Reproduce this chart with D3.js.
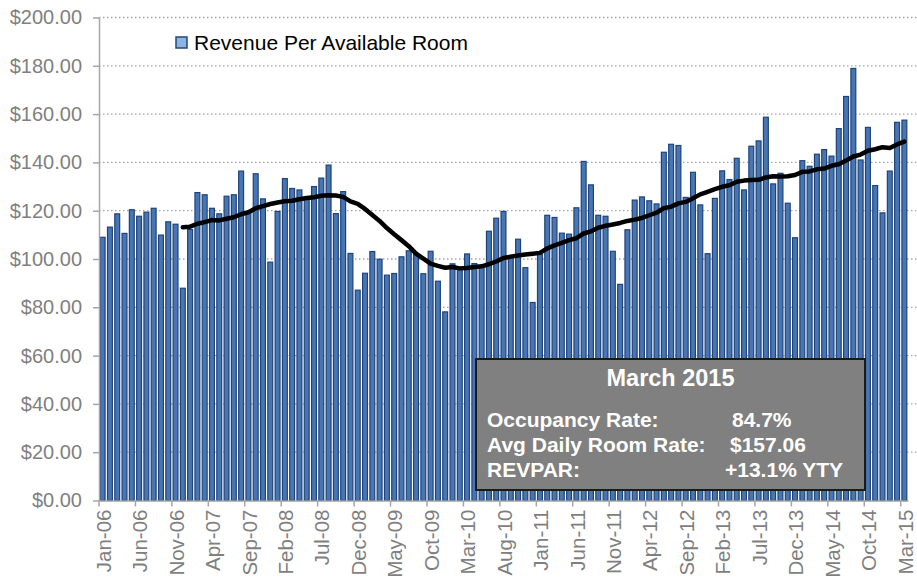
<!DOCTYPE html>
<html>
<head>
<meta charset="utf-8">
<script src="https://cdn.jsdelivr.net/npm/d3@7"></script>
<style>
  body { margin: 0; background: #fff; }
  #wrapper svg { display: block; font-family: "Liberation Sans", Arial, sans-serif; }
</style>
</head>
<body>
<div id="wrapper"></div>
<script>
// monthly revenue per available room, Jan-06 .. Mar-15
const revpar2006 = [109.0, 113.2, 118.7, 110.6, 120.4, 117.7, 119.4, 121.0, 109.9, 115.4, 114.4, 87.9]
const revpar2007 = [112.2, 127.5, 126.6, 121.0, 118.7, 126.0, 126.6, 136.4, 119.5, 135.3, 124.9, 98.7]
const revpar2008 = [119.7, 133.3, 129.2, 128.6, 125.0, 130.0, 133.5, 138.9, 118.8, 127.9, 102.3, 87.1]
const revpar2009 = [94.1, 103.1, 99.9, 93.3, 94.0, 100.9, 103.4, 101.9, 93.9, 103.2, 90.8, 78.1]
const revpar2010 = [98.0, 96.0, 102.1, 98.1, 97.0, 111.5, 116.9, 119.7, 100.5, 108.2, 96.4, 82.0]
const revpar2011 = [102.0, 118.1, 117.2, 110.7, 110.3, 121.2, 140.4, 130.7, 118.1, 117.7, 103.2, 89.5]
const revpar2012 = [112.1, 124.4, 125.7, 124.1, 122.8, 144.2, 147.5, 147.0, 125.5, 135.9, 122.4, 102.2]
const revpar2013 = [125.1, 136.5, 132.9, 141.7, 128.6, 146.7, 148.9, 158.7, 131.1, 135.5, 123.1, 108.8]
const revpar2014 = [140.7, 138.4, 143.4, 145.3, 142.6, 154.0, 167.3, 178.9, 141.0, 154.5, 130.4, 119.1]
const revpar2015 = [136.4, 156.6, 157.5]

const tickLabels = ["Jan-06", "Jun-06", "Nov-06", "Apr-07", "Sep-07", "Feb-08", "Jul-08", "Dec-08",
  "May-09", "Oct-09", "Mar-10", "Aug-10", "Jan-11", "Jun-11", "Nov-11", "Apr-12", "Sep-12",
  "Feb-13", "Jul-13", "Dec-13", "May-14", "Oct-14", "Mar-15"]
const yTicks = [0, 20, 40, 60, 80, 100, 120, 140, 160, 180, 200]

const infoTitle = "March 2015"
const infoLabels = ["Occupancy Rate:", "Avg Daily Room Rate:", "REVPAR:"]
const infoValues = ["84.7%", "$157.06", "+13.1% YTY"]

const legendLabel = "Revenue Per Available Room"
const movingAvgPeriod = 12

function drawChart() {
  //1. Data
  const values = [].concat(revpar2006, revpar2007, revpar2008, revpar2009, revpar2010,
    revpar2011, revpar2012, revpar2013, revpar2014, revpar2015)
  const months = d3.timeMonth.range(new Date(2006, 0, 1), new Date(2015, 3, 1))
  const dataset = months.map((m, i) => ({ month: m, value: values[i] }))
  const fmtMonth = d3.timeFormat("%b-%y")

  // 12 per. moving average trendline (starts at the 12th month)
  const trend = dataset.slice(movingAvgPeriod - 1).map((d, i) => ({
    month: d.month,
    avg: d3.mean(values.slice(i, i + movingAvgPeriod))
  }))

  const xAccessor = d => d.month
  const yAccessor = d => d.value

  //2. Dimensions
  let dimensions = {
    width: 917,
    height: 580,
    margin: { top: 17.5, right: 9, bottom: 79.5, left: 99 },
  }
  dimensions.boundedWidth = dimensions.width - dimensions.margin.left - dimensions.margin.right
  dimensions.boundedHeight = dimensions.height - dimensions.margin.top - dimensions.margin.bottom

  //3. Canvas
  const wrapper = d3.select("#wrapper")
    .append("svg")
      .attr("width", dimensions.width)
      .attr("height", dimensions.height)

  const bounds = wrapper.append("g")
      .attr("transform", `translate(${dimensions.margin.left}, ${dimensions.margin.top})`)

  //4. Scales
  const xScale = d3.scaleBand()
    .domain(months)
    .range([0, dimensions.boundedWidth])
    .paddingInner(0.33)
    .paddingOuter(0.165)

  const yScale = d3.scaleLinear()
    .domain([0, 200])
    .range([dimensions.boundedHeight, 0])

  const step = xScale.step()
  const bw = xScale.bandwidth()

  // gridlines
  bounds.append("g")
    .selectAll("line")
    .data(yTicks.filter(d => d > 0))
    .join("line")
      .attr("x1", 0)
      .attr("x2", dimensions.width - dimensions.margin.left)
      .attr("y1", d => yScale(d))
      .attr("y2", d => yScale(d))
      .attr("stroke", "#a6a6a6")
      .attr("stroke-width", 1.3)
      .attr("stroke-dasharray", "1.5,2.5")

  //5. Draw data
  bounds.append("g")
    .selectAll("rect")
    .data(dataset)
    .join("rect")
      .attr("x", d => xScale(xAccessor(d)))
      .attr("y", d => yScale(yAccessor(d)))
      .attr("width", bw)
      .attr("height", d => dimensions.boundedHeight - yScale(yAccessor(d)))
      .attr("fill", "#4876b3")
      .attr("stroke", "#1f4379")
      .attr("stroke-width", 1.2)

  const lineGenerator = d3.line()
    .x(d => xScale(d.month) + bw / 2)
    .y(d => yScale(d.avg))

  bounds.append("path")
    .datum(trend)
    .attr("d", lineGenerator)
    .attr("fill", "none")
    .attr("stroke", "#000")
    .attr("stroke-width", 4.5)
    .attr("stroke-linejoin", "round")
    .attr("stroke-linecap", "round")

  //6. Peripherals
  const tickMonths = months.filter(m => tickLabels.includes(fmtMonth(m)))

  const xAxisGenerator = d3.axisBottom(xScale)
    .tickValues(tickMonths)
    .tickFormat(fmtMonth)
    .tickSize(6)
    .tickSizeOuter(0)

  const xAxis = bounds.append("g")
    .attr("transform", `translate(0, ${dimensions.boundedHeight})`)
    .call(xAxisGenerator)

  // tick marks sit on the category boundary, labels in the middle
  xAxis.selectAll(".tick line")
    .attr("x1", -step / 2)
    .attr("x2", -step / 2)
  xAxis.selectAll(".tick text")
    .attr("transform", "rotate(-90)")
    .attr("text-anchor", "end")
    .attr("x", -9)
    .attr("y", 1)
    .attr("dy", "0.35em")
    .attr("fill", "#7f7f7f")
    .style("font-size", "20.5px")
    .style("font-family", "'Liberation Sans', Arial, sans-serif")

  const yAxisGenerator = d3.axisLeft(yScale)
    .tickValues(yTicks)
    .tickFormat(d => "$" + d3.format(".2f")(d))
    .tickSize(6)
    .tickPadding(11)
    .tickSizeOuter(0)

  const yAxis = bounds.append("g")
    .call(yAxisGenerator)

  yAxis.selectAll(".tick text")
    .attr("fill", "#7f7f7f")
    .style("font-size", "20px")
    .style("font-family", "'Liberation Sans', Arial, sans-serif")

  wrapper.selectAll(".domain, .tick line")
    .attr("stroke", "#a6a6a6")
    .attr("stroke-width", 1.5)

  // legend
  const legend = wrapper.append("g")
    .attr("transform", "translate(176, 37)")
  legend.append("rect")
    .attr("width", 11)
    .attr("height", 11)
    .attr("fill", "#8db4e2")
    .attr("stroke", "#1f497d")
    .attr("stroke-width", 1.5)
  legend.append("text")
    .attr("x", 18)
    .attr("y", 13)
    .style("font-size", "21px")
    .text(legendLabel)

  // info box
  const info = wrapper.append("g")
    .attr("transform", "translate(476, 359)")
  info.append("rect")
    .attr("width", 389)
    .attr("height", 131)
    .attr("fill", "#808080")
    .attr("stroke", "#1a1a1a")
    .attr("stroke-width", 2)
  info.append("text")
    .attr("x", 194.5)
    .attr("y", 27)
    .attr("text-anchor", "middle")
    .attr("fill", "#fff")
    .style("font-size", "23.5px")
    .style("font-weight", "bold")
    .text(infoTitle)

  const valueX = [256, 254, 249]
  info.selectAll(".info-row")
    .data(infoLabels)
    .join("g")
      .attr("class", "info-row")
      .attr("transform", (d, i) => `translate(0, ${68 + i * 25})`)
      .each(function (d, i) {
        const row = d3.select(this)
        row.append("text")
          .attr("x", 11)
          .attr("fill", "#fff")
          .style("font-size", "21px")
          .style("font-weight", "bold")
          .text(d)
        row.append("text")
          .attr("x", valueX[i])
          .attr("fill", "#fff")
          .style("font-size", "21px")
          .style("font-weight", "bold")
          .text(infoValues[i])
      })
}
drawChart()
</script>
</body>
</html>
